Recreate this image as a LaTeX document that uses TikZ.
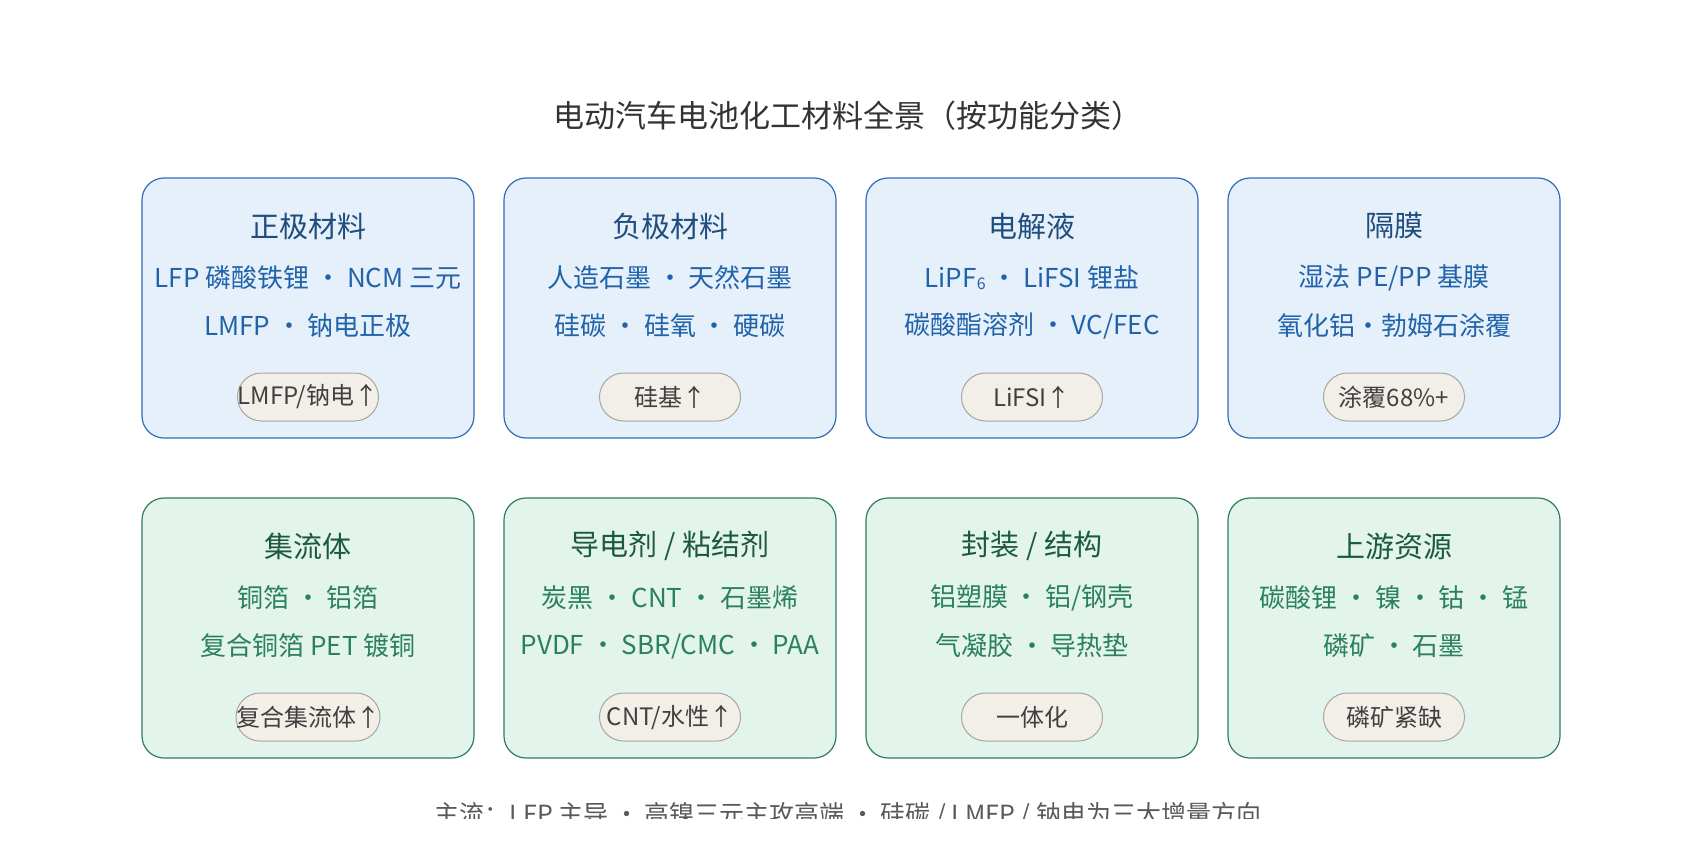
\documentclass[tikz,border=0pt]{standalone}
\usepackage{fontspec}
\setmainfont{Noto Sans CJK SC}
\usetikzlibrary{positioning}
\definecolor{bluefill}{HTML}{E6F0FA}
\definecolor{blueline}{HTML}{2F6DB5}
\definecolor{bluehead}{HTML}{1E4D7E}
\definecolor{bluetext}{HTML}{2063AA}
\definecolor{greenfill}{HTML}{E2F4EC}
\definecolor{greenline}{HTML}{2E7D5B}
\definecolor{greenhead}{HTML}{1B5A3E}
\definecolor{greentext}{HTML}{2A8060}
\definecolor{pillfill}{HTML}{F2EFE9}
\definecolor{pillline}{HTML}{A9A59D}
\newcommand{\fs}[1]{\fontsize{#1}{#1}\selectfont}
\tikzset{
  card/.style = {draw, rounded corners=22pt, line width=1.2pt, minimum width=332pt, minimum height=260pt},
  bluecard/.style = {card, draw=blueline, fill=bluefill},
  greencard/.style = {card, draw=greenline, fill=greenfill},
  head/.style = {font=\fs{29}},
  item/.style = {font=\fs{26}},
  pill/.style = {draw=pillline, fill=pillfill, line width=1pt, rounded corners=24pt, minimum width=141pt, minimum height=48pt, inner sep=0pt, font=\fs{24}, text=black!75},
}
\begin{document}
\begin{tikzpicture}[x=1pt,y=-1pt]
\useasboundingbox (0,0) rectangle (1696,864);
\node[font=\fs{31}, text=black!80] (title) at (848,116) {电动汽车电池化工材料全景（按功能分类）};
% first row
\node[bluecard] (cathode) at (308,308) {};
\node[head, text=bluehead] (cathodeh) at (308,226) {正极材料};
\node[item, text=bluetext] (cathode1) at (308,278) {LFP 磷酸铁锂 · NCM 三元};
\node[item, text=bluetext] (cathode2) at (308,326) {LMFP · 钠电正极};
\node[pill] (cathodep) at (308,397) {LMFP/钠电↑};
\node[bluecard] (anode) at (670,308) {};
\node[head, text=bluehead] (anodeh) at (670,226) {负极材料};
\node[item, text=bluetext] (anode1) at (670,278) {人造石墨 · 天然石墨};
\node[item, text=bluetext] (anode2) at (670,326) {硅碳 · 硅氧 · 硬碳};
\node[pill] (anodep) at (670,397) {硅基↑};
\node[bluecard] (elec) at (1032,308) {};
\node[head, text=bluehead] (elech) at (1032,226) {电解液};
\node[item, text=bluetext] (elec1) at (1032,278) {LiPF\raisebox{-2pt}{\fs{16}6} · LiFSI 锂盐};
\node[item, text=bluetext] (elec2) at (1032,326) {碳酸酯溶剂 · VC/FEC};
\node[pill] (elecp) at (1032,397) {LiFSI↑};
\node[bluecard] (sep) at (1394,308) {};
\node[head, text=bluehead] (seph) at (1394,226) {隔膜};
\node[item, text=bluetext] (sep1) at (1394,278) {湿法 PE/PP 基膜};
\node[item, text=bluetext] (sep2) at (1394,326) {氧化铝·勃姆石涂覆};
\node[pill] (sepp) at (1394,397) {涂覆68\%+};
% second row
\node[greencard] (coll) at (308,628) {};
\node[head, text=greenhead] (collh) at (308,546) {集流体};
\node[item, text=greentext] (coll1) at (308,598) {铜箔 · 铝箔};
\node[item, text=greentext] (coll2) at (308,646) {复合铜箔 PET 镀铜};
\node[pill] (collp) at (308,717) {复合集流体↑};
\node[greencard] (cond) at (670,628) {};
\node[head, text=greenhead] (condh) at (670,546) {导电剂 / 粘结剂};
\node[item, text=greentext] (cond1) at (670,598) {炭黑 · CNT · 石墨烯};
\node[item, text=greentext] (cond2) at (670,646) {PVDF · SBR/CMC · PAA};
\node[pill] (condp) at (670,717) {CNT/水性↑};
\node[greencard] (pack) at (1032,628) {};
\node[head, text=greenhead] (packh) at (1032,546) {封装 / 结构};
\node[item, text=greentext] (pack1) at (1032,598) {铝塑膜 · 铝/钢壳};
\node[item, text=greentext] (pack2) at (1032,646) {气凝胶 · 导热垫};
\node[pill] (packp) at (1032,717) {一体化};
\node[greencard] (res) at (1394,628) {};
\node[head, text=greenhead] (resh) at (1394,546) {上游资源};
\node[item, text=greentext] (res1) at (1394,598) {碳酸锂 · 镍 · 钴 · 锰};
\node[item, text=greentext] (res2) at (1394,646) {磷矿 · 石墨};
\node[pill] (resp) at (1394,717) {磷矿紧缺};
\begin{scope}
\clip (0,0) rectangle (1696,818);
\node[font=\fs{25}, text=black!65] (note) at (848,815) {主流：LFP 主导 · 高镍三元主攻高端 · 硅碳 / LMFP / 钠电为三大增量方向};
\end{scope}
\end{tikzpicture}
\end{document}
